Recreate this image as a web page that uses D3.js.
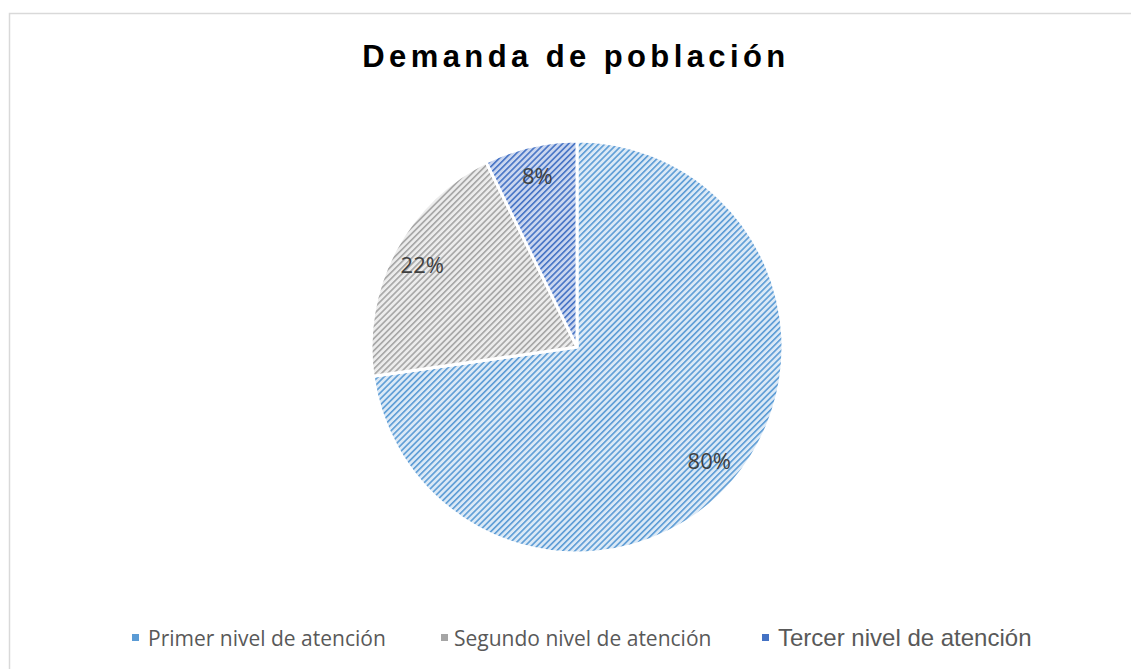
<!DOCTYPE html>
<html>
<head>
<meta charset="utf-8">
<script src="https://cdn.jsdelivr.net/npm/d3@7"></script>
<style>
body { margin: 0; background: #fff; }
</style>
</head>
<body>
<script>
// chart data
var categories = ["Primer nivel de atención", "Segundo nivel de atención", "Tercer nivel de atención"];
var values = [80, 22, 8];
var labels = ["80%", "22%", "8%"];

var width = 1131, height = 669;
var cx = 577, cy = 347, radius = 206;

var fg = ["#5b9bd5", "#a5a5a5", "#4472c4"];
var bg = ["#dbe9f6", "#ececec", "#cad6ef"];

var data = categories.map(function(c, i) { return { cat: c, value: values[i], label: labels[i], i: i }; });

var svg = d3.select("body").append("svg")
  .attr("width", width)
  .attr("height", height);

var defs = svg.append("defs");
fg.forEach(function(col, i) {
  var p = defs.append("pattern")
    .attr("id", "hatch" + i)
    .attr("patternUnits", "userSpaceOnUse")
    .attr("width", 4.3)
    .attr("height", 4.3)
    .attr("patternTransform", "rotate(45)");
  p.append("rect").attr("width", 4.3).attr("height", 4.3).attr("fill", bg[i]);
  p.append("rect").attr("width", 1.6).attr("height", 4.3).attr("fill", col);
});

// chart border
svg.append("rect")
  .attr("x", 9.5).attr("y", 13.5)
  .attr("width", 1140).attr("height", 700)
  .attr("fill", "none")
  .attr("stroke", "#d9d9d9")
  .attr("stroke-width", 1.5);

svg.append("text")
  .attr("x", 576)
  .attr("y", 67)
  .attr("text-anchor", "middle")
  .style("font-family", "'Liberation Sans', Arial, sans-serif")
  .style("font-size", "31px")
  .style("font-weight", "bold")
  .style("letter-spacing", "4.4px")
  .style("fill", "#000")
  .text("Demanda de población");

var pie = d3.pie()
  .sort(null)
  .value(function(d) { return d.value; });

var arc = d3.arc()
  .outerRadius(radius)
  .innerRadius(0);

var labelArc = d3.arc()
  .outerRadius(175)
  .innerRadius(175);

var g = svg.append("g")
  .attr("transform", "translate(" + cx + "," + cy + ")");

var slices = g.selectAll(".arc")
  .data(pie(data))
  .enter().append("g")
  .attr("class", "arc");

slices.append("path")
  .attr("d", arc)
  .attr("fill", function(d) { return "url(#hatch" + d.data.i + ")"; })
  .attr("stroke", "#fff")
  .attr("stroke-width", 3)
  .attr("stroke-linejoin", "round");

slices.append("text")
  .attr("transform", function(d) { return "translate(" + labelArc.centroid(d) + ")"; })
  .attr("text-anchor", "middle")
  .attr("dy", "0.35em")
  .style("font-family", "'Open Sans', sans-serif")
  .style("font-size", "22px")
  .style("fill", "#404040")
  .text(function(d) { return d.data.label; });

// legend
var legendX = [132, 441, 762];
var legendTextX = [148, 454, 778];
var legendFont = ["'Open Sans', sans-serif", "'Open Sans', sans-serif", "'Liberation Sans', Arial, sans-serif"];
var legendSize = ["21px", "21px", "24px"];

var legend = svg.selectAll(".legend")
  .data(data)
  .enter().append("g")
  .attr("class", "legend");

legend.append("rect")
  .attr("x", function(d, i) { return legendX[i]; })
  .attr("y", 634)
  .attr("width", 7)
  .attr("height", 7)
  .attr("fill", function(d) { return fg[d.i]; });

legend.append("text")
  .attr("x", function(d, i) { return legendTextX[i]; })
  .attr("y", 646)
  .style("font-family", function(d, i) { return legendFont[i]; })
  .style("font-size", function(d, i) { return legendSize[i]; })
  .style("fill", "#595959")
  .text(function(d) { return d.cat; });
</script>
</body>
</html>
